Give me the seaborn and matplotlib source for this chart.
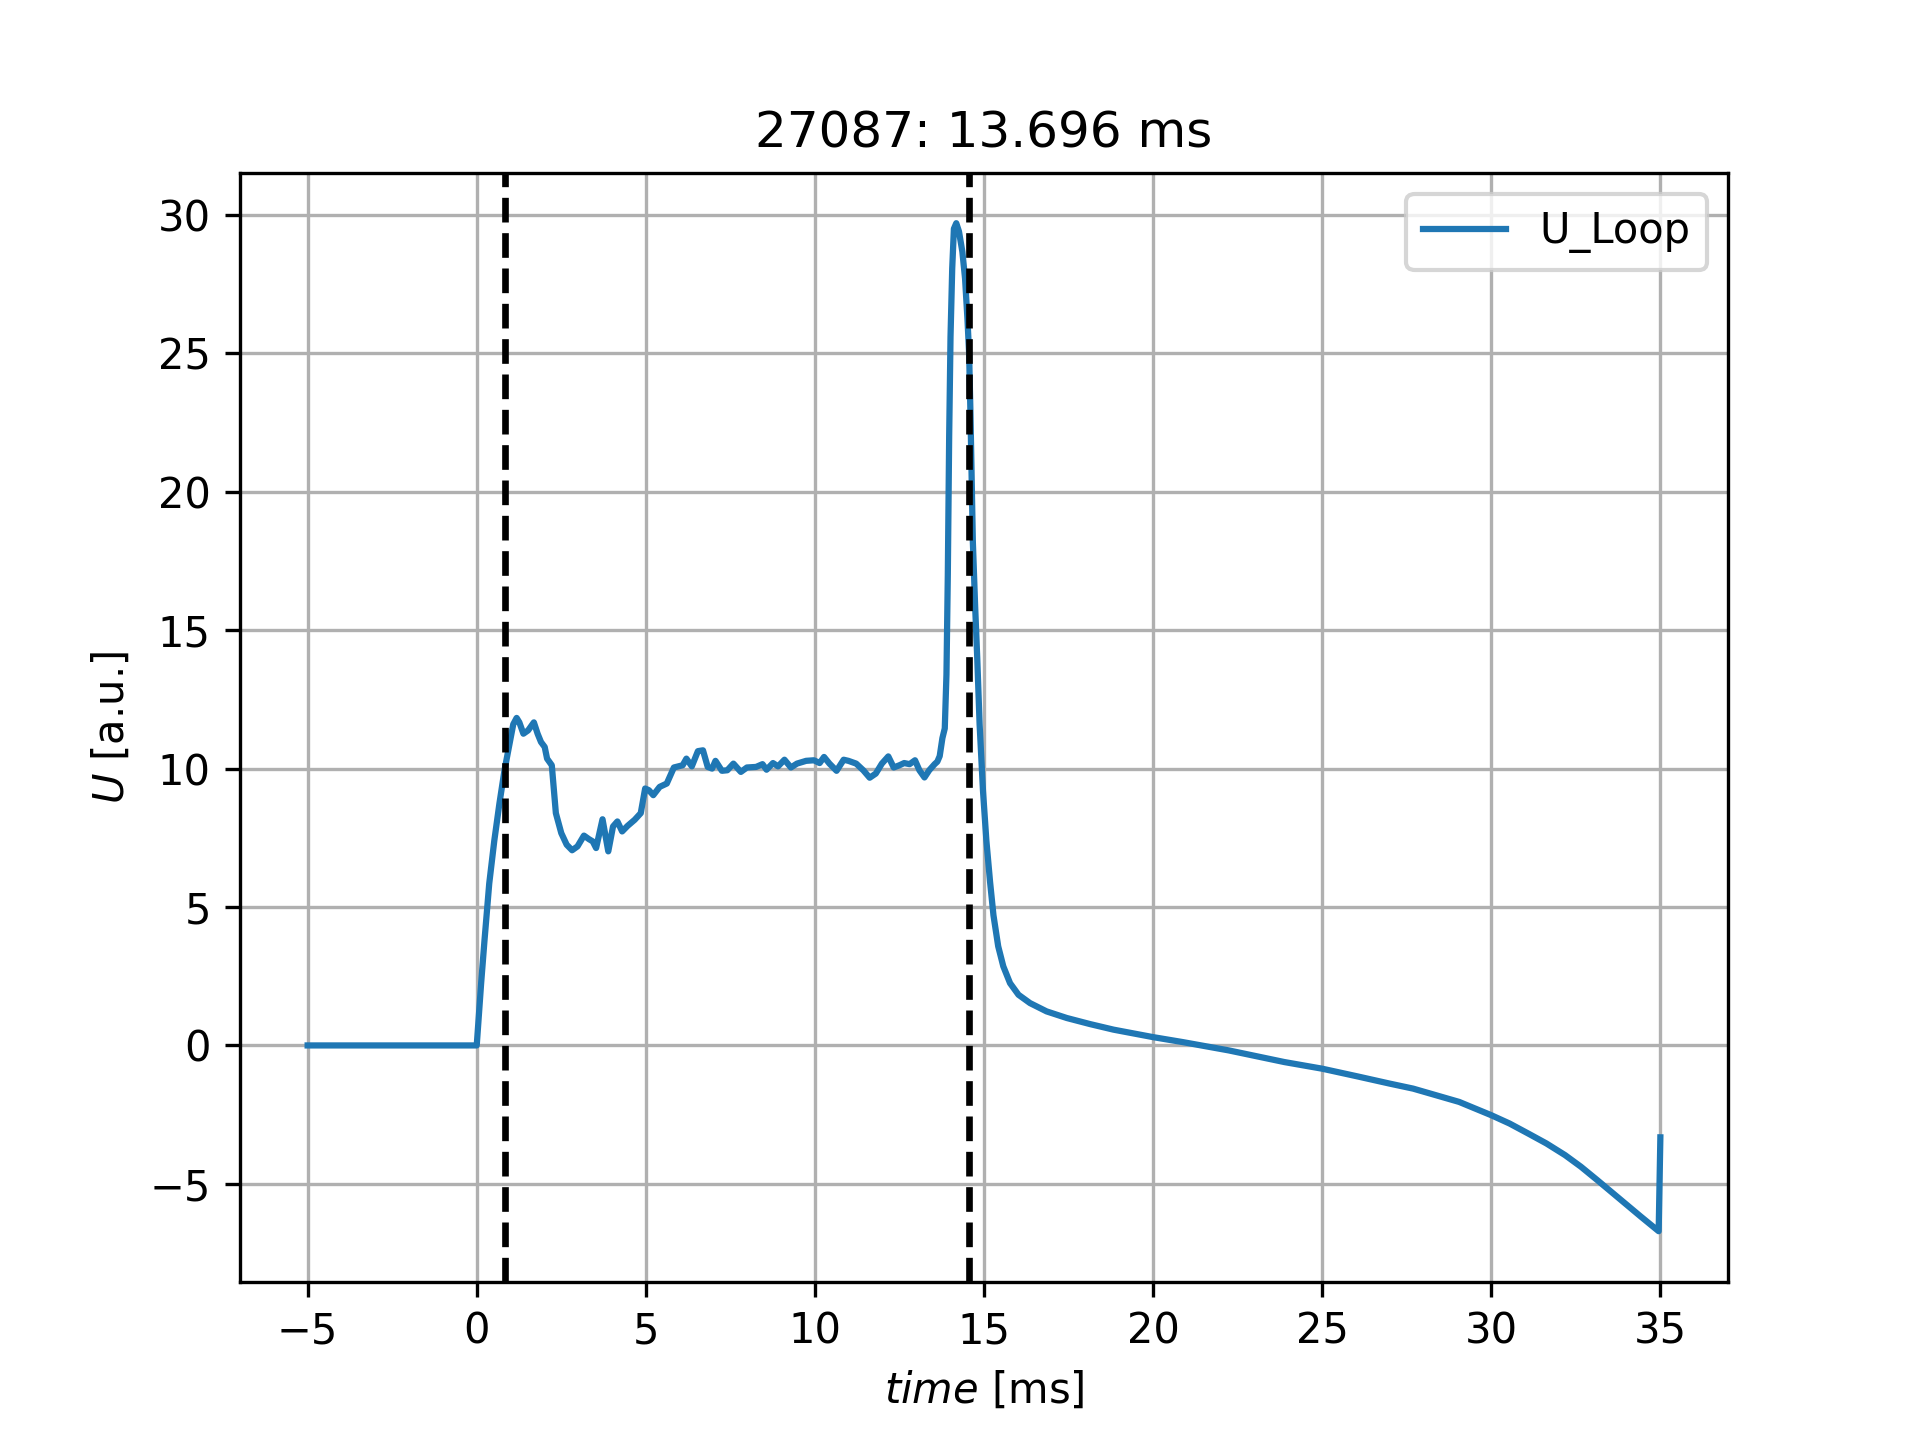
import numpy as np
import pandas as pd
import matplotlib
matplotlib.use("Agg")
import matplotlib.pyplot as plt
import seaborn as sns


shot = 27087
t_start = 0.85
duration = 13.696
t_end = t_start + duration

# values
time_ms = [
    -5.0, 0.0, 0.06, 0.13, 0.23, 0.37, 0.52, 0.67, 0.82, 0.97,
    1.08, 1.18, 1.26, 1.38, 1.52, 1.69, 1.80, 1.90, 2.01, 2.08,
    2.22, 2.34, 2.50, 2.66, 2.82, 2.98, 3.17, 3.32, 3.43, 3.53,
    3.72, 3.89, 4.03, 4.16, 4.30, 4.46, 4.67, 4.85, 4.98, 5.09,
    5.22, 5.41, 5.62, 5.83, 6.09, 6.20, 6.36, 6.54, 6.69, 6.83,
    6.96, 7.06, 7.25, 7.41, 7.59, 7.81, 7.99, 8.26, 8.45, 8.57,
    8.76, 8.91, 9.10, 9.29, 9.47, 9.74, 9.97, 10.14, 10.27, 10.43,
    10.64, 10.85, 10.99, 11.22, 11.43, 11.62, 11.80, 11.98, 12.17, 12.33,
    12.50, 12.64, 12.80, 12.96, 13.09, 13.24, 13.38, 13.54, 13.62, 13.69,
    13.77, 13.84, 13.89, 13.93, 13.97, 14.01, 14.06, 14.11, 14.18, 14.26,
    14.36, 14.44, 14.51, 14.56, 14.60, 14.63, 14.67, 14.74, 14.80, 14.87,
    14.97, 15.07, 15.18, 15.28, 15.42, 15.57, 15.77, 16.02, 16.36, 16.85,
    17.45, 18.14, 18.83, 19.62, 20.00, 20.88, 22.24, 23.88, 25.00, 26.05,
    27.00, 27.69, 28.37, 29.05, 30.00, 30.54, 31.09, 31.63, 32.18, 32.65,
    33.13, 33.54, 33.95, 34.42, 34.95, 35.00,
]

u_loop = [
    0.0, 0.0, 1.04, 2.24, 3.80, 5.85, 7.40, 8.73, 9.93, 10.90,
    11.60, 11.83, 11.67, 11.26, 11.38, 11.67, 11.26, 10.96, 10.78, 10.36,
    10.12, 8.39, 7.67, 7.25, 7.05, 7.19, 7.58, 7.45, 7.37, 7.13,
    8.17, 7.01, 7.91, 8.09, 7.73, 7.93, 8.15, 8.39, 9.28, 9.22,
    9.04, 9.34, 9.46, 10.04, 10.12, 10.36, 10.08, 10.63, 10.66, 10.06,
    10.00, 10.28, 9.92, 9.94, 10.18, 9.88, 10.04, 10.06, 10.16, 9.96,
    10.20, 10.08, 10.32, 10.04, 10.18, 10.28, 10.30, 10.20, 10.42, 10.18,
    9.92, 10.32, 10.28, 10.18, 9.94, 9.67, 9.82, 10.18, 10.44, 10.04,
    10.12, 10.20, 10.16, 10.30, 9.94, 9.68, 9.94, 10.16, 10.25, 10.45,
    11.10, 11.45, 13.40, 17.00, 22.00, 25.60, 28.06, 29.50, 29.70, 29.40,
    28.67, 27.70, 26.25, 25.00, 22.80, 20.80, 18.20, 15.80, 14.00, 11.60,
    9.20, 7.40, 5.90, 4.70, 3.58, 2.86, 2.25, 1.83, 1.53, 1.23,
    0.99, 0.77, 0.57, 0.39, 0.30, 0.12, -0.18, -0.60, -0.84, -1.12,
    -1.38, -1.56, -1.80, -2.04, -2.52, -2.82, -3.18, -3.54, -3.96, -4.38,
    -4.86, -5.28, -5.70, -6.18, -6.71, -3.32,
]

df = pd.DataFrame({"time": time_ms, "U": u_loop})

fig, ax = plt.subplots(figsize=(6.4, 4.8), dpi=300)

sns.lineplot(data=df, x="time", y="U", label="U_Loop", ax=ax, sort=False)
ax.axvline(t_start, color="k", linestyle="--", linewidth=1.6)
ax.axvline(t_end, color="k", linestyle="--", linewidth=1.6)

ax.grid(True)
ax.set_title(f"{shot}: {duration:.3f} ms")
ax.set_xlabel("$time$ [ms]")
ax.set_ylabel("$U$ [a.u.]")
ax.legend(loc="upper right")

plt.savefig("out.png", dpi=300)
